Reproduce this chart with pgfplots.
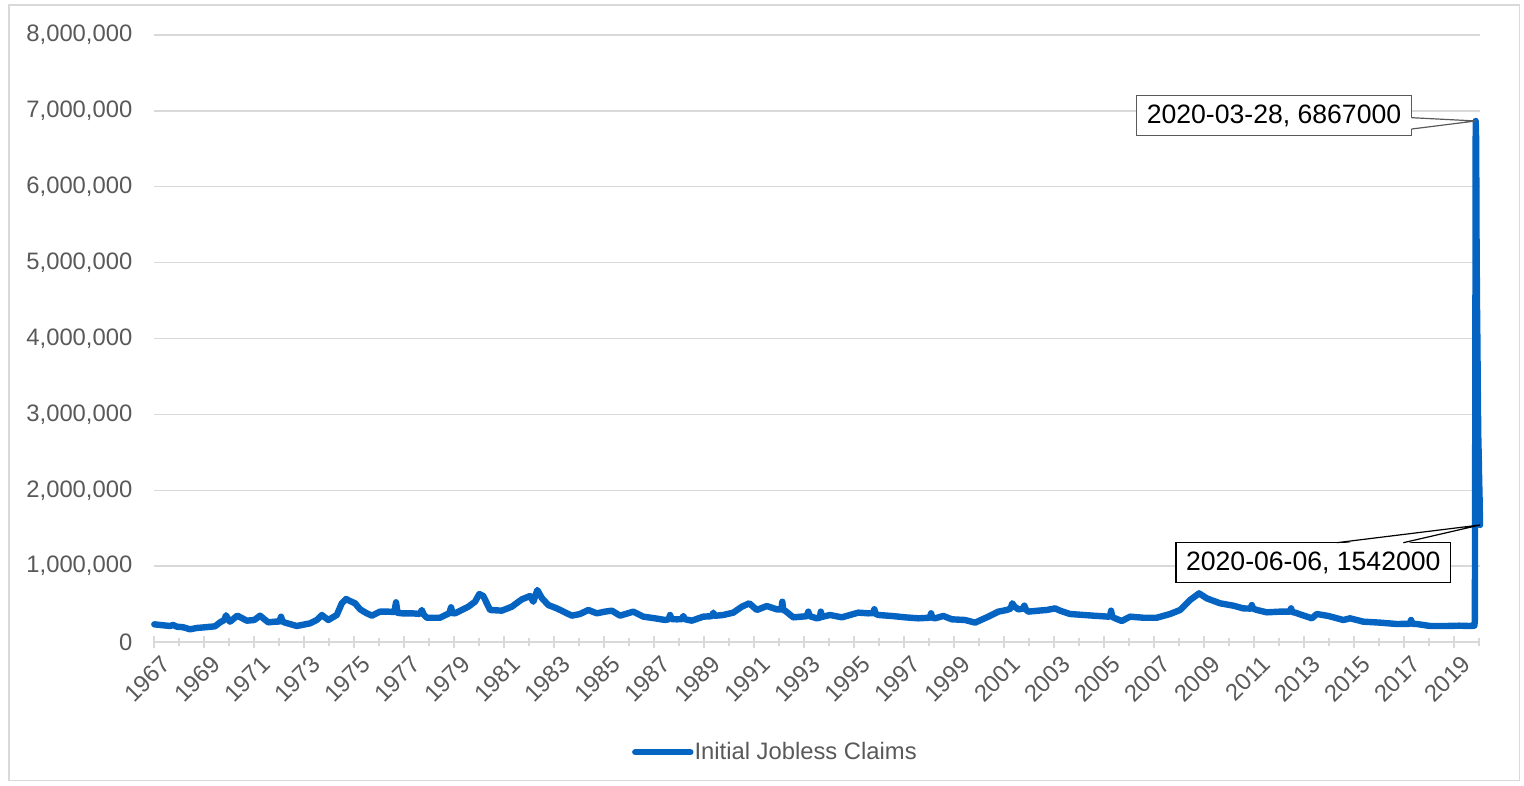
\documentclass[border=0pt]{standalone}
\usepackage{pgfplots}
\pgfplotsset{compat=1.18}
\usepackage{fontspec}
\setmainfont{Liberation Sans}
\definecolor{lineblue}{RGB}{5,99,193}
\definecolor{tickgray}{RGB}{89,89,89}
\definecolor{gridgray}{RGB}{217,217,217}
\begin{document}
\begin{tikzpicture}
\path (0pt,0pt) rectangle (762pt,393pt);
\draw[gridgray, line width=0.75pt] (4.5pt,2.75pt) rectangle (759.75pt,390.5pt);
\begin{axis}[
  at={(77.15pt,72pt)}, anchor=south west,
  scale only axis, width=662.875pt, height=303.5pt,
  xmin=1967, xmax=2020.03, ymin=0, ymax=8000000,
  clip=false,
  axis lines*=left,
  y axis line style={draw=none},
  x axis line style={gridgray, line width=1pt},
  xtick={1967,1969,...,2019},
  minor xtick={1968,1970,...,2020},
  xtick align=center,
  major tick length=6pt, minor tick length=4pt,
  xtick style={gridgray, line width=1pt},
  minor x tick style={gridgray, line width=1pt},
  ytick={0,1000000,...,8000000},
  ytick style={draw=none},
  ymajorgrids, major grid style={gridgray, line width=0.7pt},
  scaled y ticks=false,
  /pgf/number format/assume math mode=true,
  yticklabel={\pgfmathprintnumber[fixed,precision=0,1000 sep={,}]{\tick}},
  xticklabel={\pgfmathprintnumber[fixed,precision=0,1000 sep={}]{\tick}},
  ticklabel style={font=\fontsize{11.9}{14}\selectfont, text=tickgray},
  yticklabel style={anchor=east, inner sep=0pt, xshift=-10.8pt},
  xticklabel style={rotate=45, anchor=north east, inner sep=0pt, yshift=-4pt, xshift=0pt},
  legend style={at={(0.3601,-0.1817)}, anchor=west, draw=none, fill=none, inner sep=0pt,
    font=\fontsize{11.9}{14}\selectfont, text=tickgray,
    nodes={inner sep=0.5pt}},
  legend image code/.code={\draw[#1, line cap=round] (0pt,0pt) -- (27.5pt,0pt);},
]
\addplot[lineblue, line width=3.2pt, line join=round, line cap=round] coordinates {
(1967.00,233000) (1967.30,222000) (1967.63,211000) (1967.75,225000) (1967.90,202000)
(1968.15,195000) (1968.43,167000) (1968.70,185000) (1969.03,194000) (1969.43,207000)
(1969.63,259000) (1969.80,290000) (1969.87,352000) (1969.95,300000) (1970.03,268000)
(1970.32,347000) (1970.70,281000) (1971.00,290000) (1971.23,347000) (1971.40,300000)
(1971.56,259000) (1971.83,268000) (1972.00,270000) (1972.07,333000) (1972.13,270000)
(1972.23,255000) (1972.70,211000) (1973.23,246000) (1973.50,290000) (1973.70,356000)
(1973.96,290000) (1974.30,356000) (1974.50,510000) (1974.67,567000) (1974.83,540000)
(1975.03,510000) (1975.23,431000) (1975.45,387000) (1975.70,347000) (1976.03,400000)
(1976.36,400000) (1976.60,395000) (1976.67,523000) (1976.73,385000) (1976.90,378000)
(1977.30,378000) (1977.62,370000) (1977.70,422000) (1977.78,360000) (1977.90,320000)
(1978.43,320000) (1978.80,380000) (1978.87,457000) (1978.93,380000) (1979.03,378000)
(1979.56,465000) (1979.83,531000) (1980.00,632000) (1980.16,606000) (1980.43,422000)
(1980.90,413000) (1981.30,465000) (1981.70,562000) (1982.03,606000) (1982.16,531000)
(1982.32,685000) (1982.50,580000) (1982.76,487000) (1983.10,443000) (1983.70,347000)
(1984.03,369000) (1984.36,422000) (1984.70,378000) (1985.03,400000) (1985.30,413000)
(1985.63,347000) (1986.16,400000) (1986.56,334000) (1987.03,312000) (1987.43,290000)
(1987.58,300000) (1987.63,356000) (1987.70,300000) (1987.90,299000) (1988.10,300000)
(1988.16,343000) (1988.22,300000) (1988.50,281000) (1988.96,334000) (1989.30,340000)
(1989.36,387000) (1989.42,345000) (1989.76,356000) (1990.16,387000) (1990.50,465000)
(1990.80,510000) (1991.10,422000) (1991.50,474000) (1991.90,430000) (1992.08,430000)
(1992.12,531000) (1992.16,420000) (1992.23,413000) (1992.56,325000) (1993.10,340000)
(1993.16,400000) (1993.22,340000) (1993.50,312000) (1993.62,320000) (1993.66,400000)
(1993.70,330000) (1994.03,356000) (1994.50,325000) (1995.16,387000) (1995.56,378000)
(1995.75,380000) (1995.80,431000) (1995.86,370000) (1995.96,356000) (1996.50,343000)
(1997.03,325000) (1997.56,312000) (1998.02,320000) (1998.07,378000) (1998.12,320000)
(1998.23,312000) (1998.56,343000) (1998.90,299000) (1999.43,290000) (1999.83,255000)
(2000.36,334000) (2000.76,400000) (2001.10,422000) (2001.25,440000) (2001.32,510000)
(2001.40,470000) (2001.56,430000) (2001.75,440000) (2001.80,479000) (2001.86,430000)
(2001.96,400000) (2002.36,413000) (2002.70,422000) (2003.03,443000) (2003.23,413000)
(2003.63,369000) (2004.56,347000) (2005.16,334000) (2005.23,340000) (2005.27,413000)
(2005.32,330000) (2005.43,312000) (2005.70,277000) (2006.03,334000) (2006.56,320000)
(2007.10,320000) (2007.63,369000) (2008.03,422000) (2008.43,553000) (2008.79,641000)
(2009.10,575000) (2009.63,510000) (2010.16,479000) (2010.56,443000) (2010.85,440000)
(2010.90,487000) (2010.95,440000) (2011.10,422000) (2011.50,391000) (2012.03,400000)
(2012.16,400000) (2012.42,400000) (2012.47,443000) (2012.52,395000) (2012.63,387000)
(2013.30,312000) (2013.50,369000) (2013.96,343000) (2014.56,290000) (2014.83,312000)
(2015.36,268000) (2016.03,255000) (2016.70,237000) (2017.22,240000) (2017.27,290000)
(2017.32,240000) (2017.50,237000) (2018.03,211000) (2018.70,211000) (2019.20,215000)
(2019.60,211000) (2019.80,215000) (2019.822,282000) (2019.839,3307000) (2019.856,6867000)
(2019.873,6615000) (2019.890,5237000) (2019.907,4442000) (2019.925,3867000) (2019.942,3176000)
(2019.959,2687000) (2019.976,2446000) (2019.993,2126000) (2020.010,1897000) (2020.028,1542000)
};
\addlegendentry{Initial Jobless Claims}
% callout 1
\node[draw=black!65, fill=white, line width=0.6pt, minimum width=137.5pt, minimum height=20pt, inner sep=0pt,
  font=\fontsize{13.3}{15}\selectfont] at (axis cs:2011.788,6936500) {2020-03-28, 6867000};
\fill[white] (axis cs:2017.20,6910000) -- (axis cs:2019.856,6867000) -- (axis cs:2017.20,6761000) -- cycle;
\draw[black!65, line width=0.6pt] (axis cs:2017.296,6910000) -- (axis cs:2019.856,6867000) -- (axis cs:2017.296,6761000);
% callout 2
\node[draw=black, fill=white, line width=0.6pt, minimum width=137.3pt, minimum height=20pt, inner sep=0pt,
  font=\fontsize{13.3}{15}\selectfont] at (axis cs:2013.36,1045100) {2020-06-06, 1542000};
\fill[white] (axis cs:2014.296,1290000) -- (axis cs:2020.028,1542000) -- (axis cs:2016.96,1290000) -- cycle;
\draw[black, line width=0.6pt] (axis cs:2014.296,1308700) -- (axis cs:2020.028,1542000) -- (axis cs:2016.96,1308700);
\end{axis}
\end{tikzpicture}
\end{document}
